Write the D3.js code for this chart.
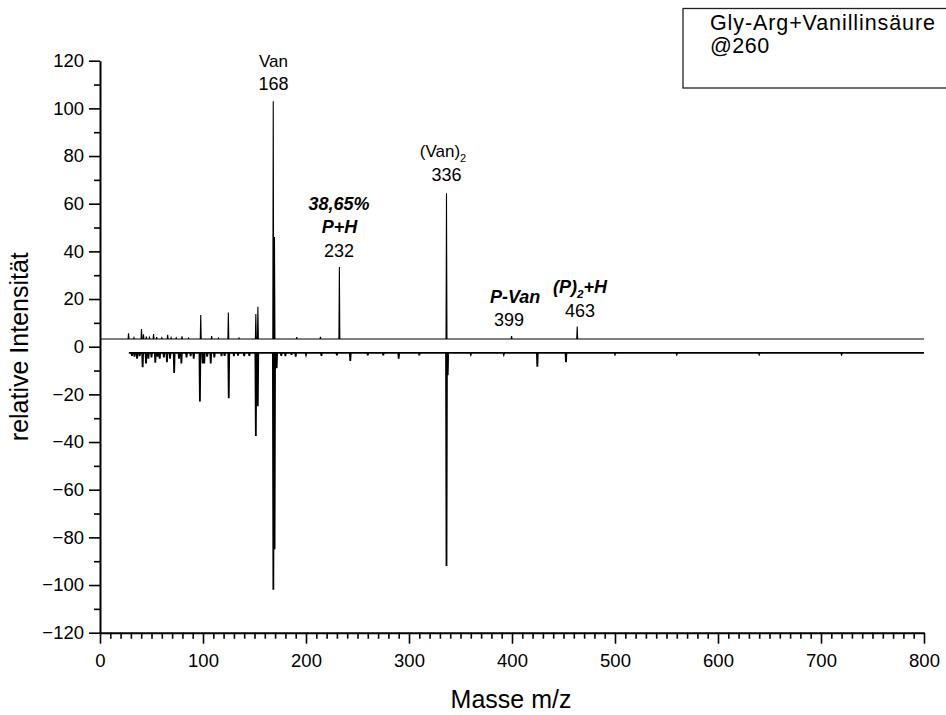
<!DOCTYPE html>
<html>
<head>
<meta charset="utf-8">
<script src="https://cdn.jsdelivr.net/npm/d3@7"></script>
<style>
  html, body { margin: 0; padding: 0; background: #fff; }
  svg { display: block; font-family: Arial, "Liberation Sans", sans-serif; }
</style>
</head>
<body>
<svg id="chart" width="946" height="715"></svg>
<script>
// ---------------- data ----------------
const xTickValues = [0, 100, 200, 300, 400, 500, 600, 700, 800];
const yTickValues = [-120, -100, -80, -60, -40, -20, 0, 20, 40, 60, 80, 100, 120];

const upperBaseline = 3.2;
const upperRange = [0, 800];
// [m/z, relative intensity] positive spectrum
const upperPeaks = [
  [27.7, 5.6], [33, 3.8], [40.3, 7.4], [42.2, 5.2], [45, 4.2], [48, 3.9],
  [52, 5.3], [55, 4.0], [60, 3.7], [65.7, 5.0], [69, 3.8], [74, 3.7],
  [79.6, 4.3], [86, 3.6], [97.8, 13.3], [108.4, 4.5], [115, 3.6],
  [124.6, 14.3], [135, 3.6], [151.3, 13.7], [153.3, 16.8],
  [168.2, 103], [169.4, 46], [191, 4.0], [214, 4.1], [232.4, 33.4],
  [336.4, 64.4], [399.6, 4.5], [463.3, 8.5]
];

const lowerBaseline = -2.6;
const lowerRange = [28, 800];
// [m/z, relative intensity] negative spectrum
const lowerPeaks = [
  [31, -3.8], [33.5, -4.2], [36, -5.0], [38.5, -4.0], [41.4, -8.6], [44.7, -7.0],
  [47, -5.0], [50, -4.5], [53.7, -6.7], [56, -4.2], [58, -5.0], [62, -4.5],
  [65, -6.5], [68, -5.0], [72, -11], [76.7, -5.0], [79, -7.0], [84, -4.5],
  [88, -4.0], [91, -5.0], [97, -23], [99.7, -7.0], [101.2, -7.0], [104, -4.2],
  [107.5, -7.0], [111, -4.5], [118, -4.0], [121, -3.8], [125, -21.6], [130, -4.0],
  [134, -3.7], [140, -4.0], [145, -3.8], [151.3, -37.5], [153.2, -25],
  [168.3, -102], [169.5, -85], [171.5, -9], [176, -3.8], [180, -4.0], [186, -3.4],
  [190, -4.2], [200, -3.3], [215, -3.8], [230, -3.6], [243, -6.0], [260, -3.6],
  [275, -3.6], [290, -5.0], [310, -3.6], [336.4, -92], [337.6, -12],
  [360, -3.2], [392, -3.2], [424.6, -8.4], [452.4, -6.5], [500, -3.1], [560, -3.1],
  [640, -3.1], [720, -3.1]
];

// annotation labels: text, m/z position, intensity level
const peakLabels = [
  { text: "Van", x: 168.5, y: 117.5, bold: false, size: 17 },
  { text: "168", x: 168.5, y: 107.5, bold: false, size: 18 },
  { text: "(Van)", sub: "2", x: 333, y: 79.5, bold: false, size: 17 },
  { text: "336", x: 336.5, y: 69.5, bold: false, size: 18 },
  { text: "38,65%", x: 232, y: 57.5, bold: true, size: 18 },
  { text: "P+H", x: 232.5, y: 47.5, bold: true, size: 18 },
  { text: "232", x: 232, y: 37.8, bold: false, size: 18 },
  { text: "P-Van", x: 403, y: 18.5, bold: true, size: 18 },
  { text: "399", x: 397, y: 8.5, bold: false, size: 18 },
  { text: "(P)", sub: "2", after: "+H", x: 466, y: 22.5, bold: true, size: 18 },
  { text: "463", x: 466, y: 12.5, bold: false, size: 18 }
];

const legendLines = ["Gly-Arg+Vanillinsäure", "@260"];

// ---------------- drawing ----------------
const svg = d3.select("#chart");
const x = d3.scaleLinear().domain([0, 800]).range([100, 924]);
const y = d3.scaleLinear().domain([-120, 120]).range([632.7, 60.7]);

function spectrumPoints(baseline, range, peaks) {
  const hw = 0.45;
  const pts = [[range[0], baseline]];
  peaks.slice().sort((a, b) => a[0] - b[0]).forEach(([m, v]) => {
    pts.push([m - hw, baseline], [m, v], [m + hw, baseline]);
  });
  pts.push([range[1], baseline]);
  return pts;
}

const line = d3.line().x(d => x(d[0])).y(d => y(d[1]));

svg.append("path")
  .attr("d", line(spectrumPoints(upperBaseline, upperRange, upperPeaks)))
  .attr("fill", "none").attr("stroke", "#000").attr("stroke-width", 1.1);

svg.append("path")
  .attr("d", line(spectrumPoints(lowerBaseline, lowerRange, lowerPeaks)))
  .attr("fill", "none").attr("stroke", "#000").attr("stroke-width", 1.8);

// axes
const minorX = d3.range(0, 801, 10).filter(v => v % 100 !== 0);
const minorY = d3.range(-110, 111, 20);

const gx = svg.append("g").attr("transform", `translate(0,${y(-120)})`);
gx.call(d3.axisBottom(x).tickValues(minorX).tickSize(6).tickFormat(""));
gx.call(g => g.selectAll(".domain").remove());
const gx2 = svg.append("g").attr("transform", `translate(0,${y(-120)})`);
gx2.call(d3.axisBottom(x).tickValues(xTickValues).tickSize(11).tickSizeOuter(0).tickPadding(6).tickFormat(d3.format("d")));

const gy = svg.append("g").attr("transform", `translate(${x(0)},0)`);
gy.call(d3.axisLeft(y).tickValues(minorY).tickSize(6).tickFormat(""));
gy.call(g => g.selectAll(".domain").remove());
const gy2 = svg.append("g").attr("transform", `translate(${x(0)},0)`);
gy2.call(d3.axisLeft(y).tickValues(yTickValues).tickSize(11).tickSizeOuter(0).tickPadding(5).tickFormat(d3.format("d")));

svg.selectAll(".domain").attr("stroke", "#000").attr("stroke-width", 2);
svg.selectAll(".tick line").attr("stroke", "#000").attr("stroke-width", 1.6);
svg.selectAll(".tick text").attr("fill", "#000")
  .style("font-family", "Arial, 'Liberation Sans', sans-serif").style("font-size", "18.5px");
gx2.selectAll(".tick text").attr("dy", "0.95em");

// axis titles
svg.append("text")
  .attr("x", 511).attr("y", 708)
  .attr("text-anchor", "middle")
  .style("font-size", "25px")
  .text("Masse m/z");

svg.append("text")
  .attr("transform", `translate(28,${y(0)}) rotate(-90)`)
  .attr("text-anchor", "middle")
  .style("font-size", "25px")
  .text("relative Intensität");

// peak labels
peakLabels.forEach(l => {
  const t = svg.append("text")
    .attr("x", x(l.x)).attr("y", y(l.y))
    .attr("text-anchor", "middle")
    .style("font-size", l.size + "px")
    .style("font-weight", l.bold ? "bold" : "normal")
    .style("font-style", l.bold ? "italic" : "normal");
  t.append("tspan").text(l.text);
  if (l.sub) {
    t.append("tspan").attr("dy", 5).style("font-size", (l.size * 0.65) + "px").text(l.sub);
    if (l.after) t.append("tspan").attr("dy", -5).text(l.after);
  }
});

// legend box
svg.append("rect")
  .attr("x", 683).attr("y", 8.5).attr("width", 300).attr("height", 79.5)
  .attr("fill", "#fff").attr("stroke", "#222").attr("stroke-width", 1.3);
svg.append("text").attr("x", 710).attr("y", 30).style("font-size", "21.5px")
  .style("letter-spacing", "0.9px").text(legendLines[0]);
svg.append("text").attr("x", 710).attr("y", 53).style("font-size", "21.5px")
  .style("letter-spacing", "0.5px").text(legendLines[1]);
</script>
</body>
</html>
